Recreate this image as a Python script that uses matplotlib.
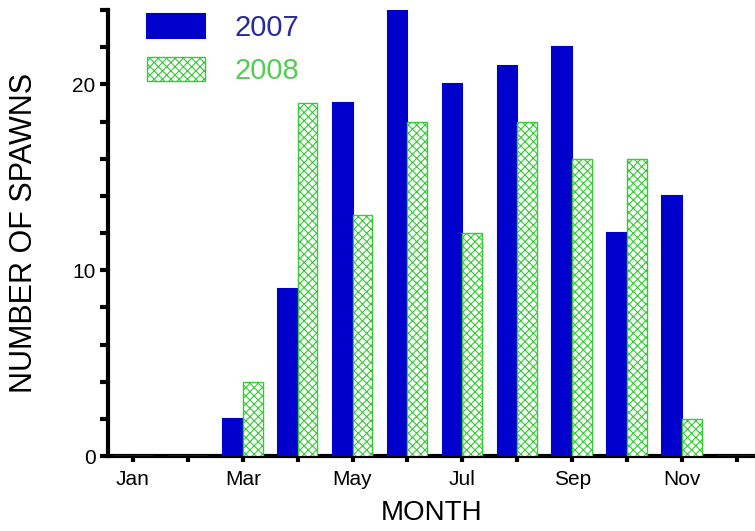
import matplotlib
matplotlib.use("Agg")
import matplotlib.pyplot as plt
import numpy as np

months = ["Jan", "Feb", "Mar", "Apr", "May", "Jun", "Jul", "Aug", "Sep", "Oct", "Nov", "Dec"]
spawns_2007 = [0, 0, 2, 9, 19, 24, 20, 21, 22, 12, 14, 0]
spawns_2008 = [0, 0, 4, 19, 13, 18, 12, 18, 16, 16, 2, 0]

plt.rcParams['font.family'] = ['Liberation Sans', 'DejaVu Sans']
plt.rcParams['hatch.linewidth'] = 0.8
plt.rcParams['hatch.color'] = '#33cc33'

fig = plt.figure(figsize=(7.55, 5.31), dpi=100)
ax = fig.add_axes([0.143, 0.141, 0.857, 0.840])

x = np.arange(1, 13)
w = 0.36
ax.bar(x - w / 2, spawns_2007, width=w, color='#0000cc', edgecolor='#0000cc',
       linewidth=1.5, label='2007', zorder=3)
ax.bar(x + w / 2, spawns_2008, width=w, color='white', edgecolor='#33cc33',
       hatch='xxxx', linewidth=1.0, label='2008', zorder=3)

ax.set_xlim(0.545, 12.33)
ax.set_ylim(0, 24)

ax.set_xticks(x)
ax.set_xticklabels([m if i % 2 == 0 else '' for i, m in enumerate(months)])
ax.set_yticks([0, 10, 20])
ax.set_yticks(np.arange(0, 25, 2), minor=True)

for s in ['top', 'right']:
    ax.spines[s].set_visible(False)
for s in ['left', 'bottom']:
    ax.spines[s].set_linewidth(3)

ax.tick_params(axis='x', which='both', direction='out', length=4, width=3,
               labelsize=15, pad=6)
ax.tick_params(axis='y', which='both', direction='out', length=6, width=3,
               labelsize=15, pad=3)

ax.set_xlabel('MONTH', fontsize=20, labelpad=8)
ax.set_ylabel('NUMBER OF SPAWNS', fontsize=22, labelpad=24)

leg = ax.legend(loc='upper left', bbox_to_anchor=(0.02, 1.05), frameon=False,
                fontsize=21, handlelength=2.0, handleheight=0.9,
                handletextpad=1.0, labelspacing=0.5)
leg.get_texts()[0].set_color('#2a2a99')
leg.get_texts()[1].set_color('#55cc55')

fig.savefig('out.png', dpi=100)
